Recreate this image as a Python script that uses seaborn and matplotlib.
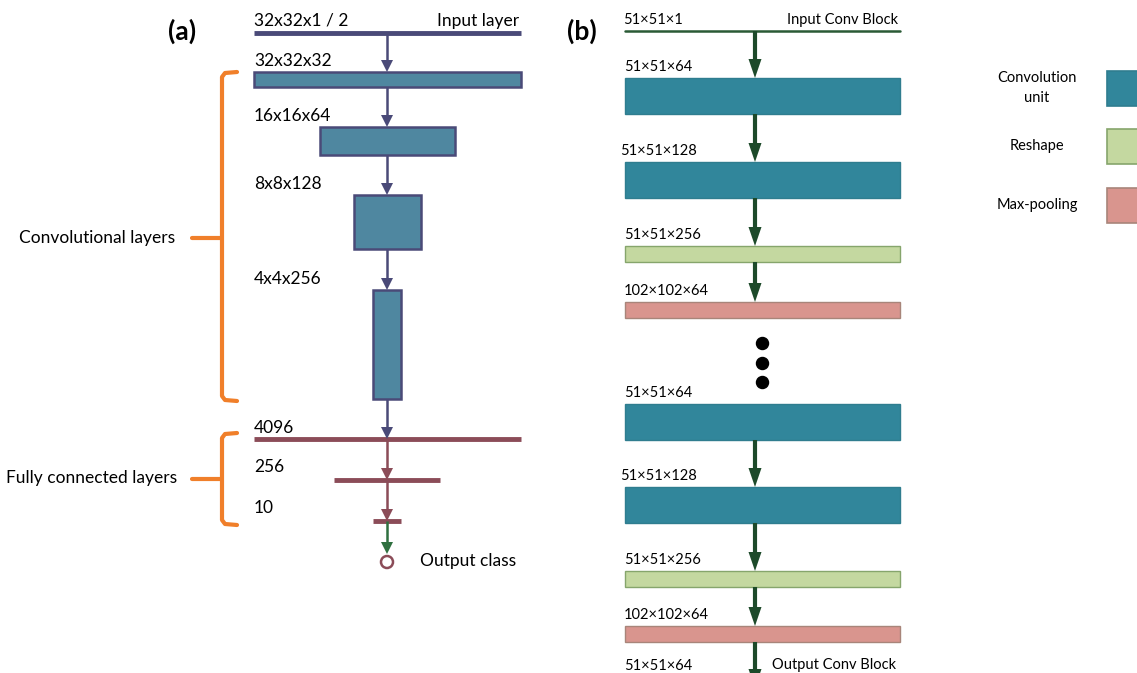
import matplotlib
matplotlib.use("Agg")
import matplotlib.pyplot as plt
import matplotlib.patches as mpatches
import seaborn as sns

sns.set_theme(style="white")
plt.rcParams['font.family'] = ['Lato', 'DejaVu Sans']
plt.rcParams['text.color'] = 'black'

# ---------------- data ----------------
# panel (a): conv layers, drawn width ~ spatial size, height ~ channels
conv_labels_a = ["32x32x32", "16x16x64", "8x8x128", "4x4x256"]
conv_width_a = [267, 135, 67, 28]
conv_height_a = [15, 28, 54, 109]
fc_labels_a = ["4096", "256", "10"]
fc_width_a = [267, 106, 28]

# panel (b): block sequence
block_labels_b = ["51×51×64", "51×51×128", "51×51×256", "102×102×64",
                  "51×51×64", "51×51×128", "51×51×256", "102×102×64"]
block_kind_b = ["conv", "conv", "reshape", "pool",
                "conv", "conv", "reshape", "pool"]
legend_labels = ["Convolution\nunit", "Reshape", "Max-pooling"]
legend_kinds = ["conv", "reshape", "pool"]

# ---------------- styles ----------------
A_EDGE = "#4a4a78"
A_FILL = "#4f87a0"
A_FC = "#8b4c58"
A_OUT = "#2f7040"
ORANGE = "#f07f2a"
B_ARROW = "#1d4a2a"
KIND_FILL = {"conv": "#31869b", "reshape": "#c4d8a0", "pool": "#d9958e"}
KIND_EDGE = {"conv": "#2f7d8f", "reshape": "#86a56c", "pool": "#a8857a"}
KIND_H = {"conv": 36, "reshape": 16, "pool": 16}
FS_A = 12.5
FS_B = 10.5

W, H = 1137, 673
fig = plt.figure(figsize=(W / 100, H / 100), dpi=100)
ax = fig.add_axes([0, 0, 1, 1])
ax.set_xlim(0, W)
ax.set_ylim(H, 0)
ax.axis("off")


def arrow(x, y0, y1, color, lw, hw, hl):
    ax.plot([x, x], [y0, y1 - hl + 1], color=color, lw=lw, solid_capstyle="butt", zorder=3)
    ax.add_patch(mpatches.Polygon([[x - hw / 2, y1 - hl], [x + hw / 2, y1 - hl], [x, y1]],
                                  closed=True, color=color, lw=0, zorder=3))


def bracket(x, y0, y1, ymid):
    ax.plot([x + 15, x + 3, x, x, x + 3, x + 15],
            [y0, y0 + 1, y0 + 5, y1 - 5, y1 - 1, y1],
            color=ORANGE, lw=3, solid_joinstyle="round", solid_capstyle="round")
    ax.plot([x, x - 30], [ymid, ymid], color=ORANGE, lw=3, solid_capstyle="round")


# ---------------- panel (a) ----------------
xc_a = 387
left_a = 254
ax.text(182, 31, "(a)", fontsize=19, fontweight="bold", ha="center", va="center")
ax.plot([254, 521], [33, 33], color=A_EDGE, lw=3.5, solid_capstyle="butt")
ax.text(left_a, 26, "32x32x1 / 2", fontsize=FS_A, va="baseline")
ax.text(519, 26, "Input layer", fontsize=FS_A, va="baseline", ha="right")

conv_top_a = [72, 127, 195, 290]
prev = 33
for lab, w, h, top in zip(conv_labels_a, conv_width_a, conv_height_a, conv_top_a):
    arrow(xc_a, prev, top, A_EDGE, 1.8, 12, 12)
    ax.add_patch(mpatches.Rectangle((xc_a - w / 2, top), w, h, facecolor=A_FILL,
                                    edgecolor=A_EDGE, lw=1.8, zorder=2))
    ax.text(left_a, top - 6, lab, fontsize=FS_A, va="baseline")
    prev = top + h

fc_y_a = [439, 480, 521]
col = A_EDGE
for lab, w, y in zip(fc_labels_a, fc_width_a, fc_y_a):
    arrow(xc_a, prev, y, col, 1.8, 12, 12)
    x0 = xc_a - w / 2 if w < 267 else left_a
    ax.plot([x0, x0 + w], [y, y], color=A_FC, lw=3.5, solid_capstyle="butt", zorder=2)
    ax.text(left_a, y - 6 if w == 267 else y - 8, lab, fontsize=FS_A, va="baseline")
    prev = y
    col = A_FC
arrow(xc_a, 521, 554, A_OUT, 1.8, 12, 12)
ax.add_patch(mpatches.Circle((xc_a, 562), 6, facecolor="white", edgecolor=A_FC, lw=1.8, zorder=3))
ax.text(420, 566, "Output class", fontsize=FS_A, va="baseline")

bracket(222, 72, 401, 238)
ax.text(97, 238, "Convolutional layers", fontsize=FS_A, ha="center", va="center")
bracket(222, 433, 525, 479)
ax.text(92, 478, "Fully connected layers", fontsize=FS_A, ha="center", va="center")

# ---------------- panel (b) ----------------
xc_b = 755
x0_b, x1_b = 625, 900
ax.text(582, 31, "(b)", fontsize=19, fontweight="bold", ha="center", va="center")
ax.plot([x0_b, x1_b], [31, 31], color="#2a5a35", lw=1.8)
ax.text(623, 24, "51×51×1", fontsize=FS_B, va="baseline")
ax.text(898, 24, "Input Conv Block", fontsize=FS_B, va="baseline", ha="right")

top_b = [78, 162, 246, 302, 404, 487, 571, 626]
prev = 31
for i, (lab, kind, top) in enumerate(zip(block_labels_b, block_kind_b, top_b)):
    if i != 4:
        arrow(xc_b, prev, top, B_ARROW, 3, 13, 19)
    h = KIND_H[kind]
    ax.add_patch(mpatches.Rectangle((x0_b, top), x1_b - x0_b, h, facecolor=KIND_FILL[kind],
                                    edgecolor=KIND_EDGE[kind], lw=1, zorder=2))
    lx = 620 if lab == "51×51×128" else 624
    ax.text(lx, top - 7, lab, fontsize=FS_B, va="baseline")
    prev = top + h
arrow(xc_b, prev, 688, B_ARROW, 3, 13, 19)
ax.text(624, 670, "51×51×64", fontsize=FS_B, va="baseline")
ax.text(772, 669, "Output Conv Block", fontsize=FS_B, va="baseline")

dot_y = [343, 363, 382]
ax.scatter([762] * len(dot_y), dot_y, s=75, color="black", zorder=3)

# legend
leg_y = [71, 129, 188]
for lab, kind, y in zip(legend_labels, legend_kinds, leg_y):
    ax.add_patch(mpatches.Rectangle((1107, y), 40, 35, facecolor=KIND_FILL[kind],
                                    edgecolor=KIND_EDGE[kind], lw=1.2, zorder=2))
    ax.text(1037, y + 17, lab, fontsize=FS_B, ha="center", va="center", linespacing=1.6)

fig.savefig("out.png", dpi=100, facecolor="white")
